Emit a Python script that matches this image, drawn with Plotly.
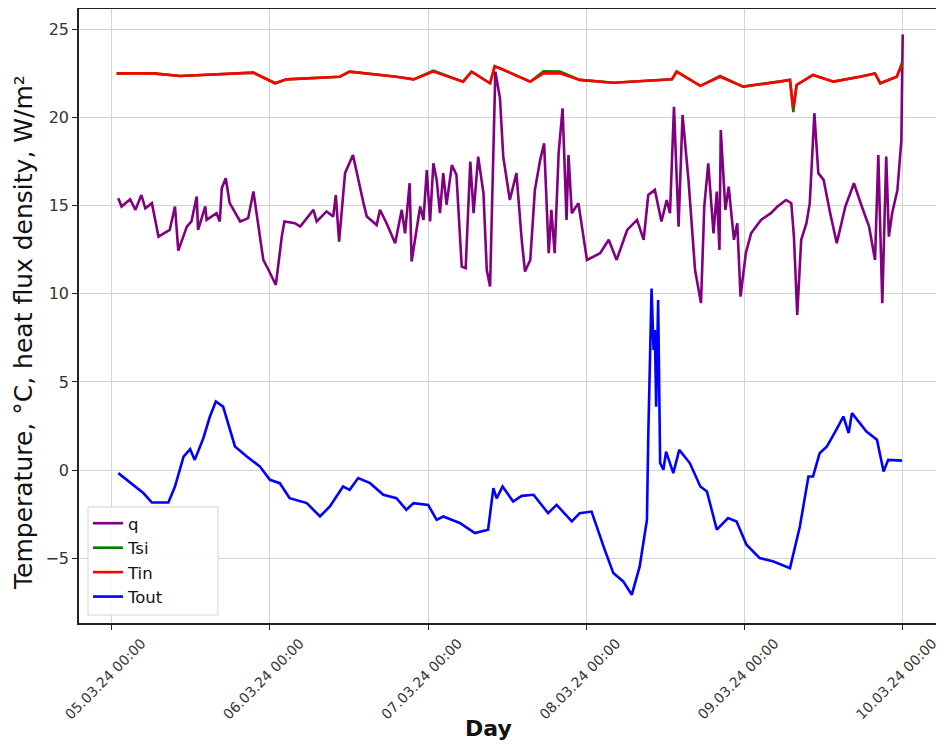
import pandas as pd
import plotly.graph_objects as go

BASE = pd.Timestamp("2024-03-05 00:00")

# ---- data (hours since 05.03.24 00:00, values) ----
q_hours = [1.0, 1.5, 2.8, 3.6, 4.5, 5.1, 6.1, 7.1, 8.8, 9.6, 10.1, 11.4, 12.1, 12.9, 13.1, 14.2, 14.4,
           15.9, 16.4, 16.7, 17.3, 17.9, 19.5, 20.7, 21.5, 22.5, 23.0, 23.8, 24.9, 25.8, 26.2, 27.8,
           28.6, 30.6, 31.1, 32.6, 33.6, 34.0, 34.5, 35.4, 36.6, 38.2, 38.7, 40.2, 40.7, 41.7, 43.0,
           44.0, 44.5, 45.2, 45.5, 46.8, 47.3, 47.8, 48.3, 48.8, 49.3, 49.8, 50.3, 50.8, 51.6, 52.3,
           53.1, 53.7, 54.4, 54.9, 55.6, 56.4, 56.9, 57.4, 58.2, 58.9, 59.4, 60.4, 61.4, 62.2, 62.7,
           63.5, 64.2, 65.0, 65.6, 66.0, 66.3, 66.7, 67.2, 67.8, 68.4, 69.0, 69.3, 69.8, 70.8, 72.1,
           73.1, 74.1, 75.4, 76.6, 78.2, 79.7, 80.7, 81.4, 82.4, 83.4, 84.2, 84.7, 85.3, 86.0, 86.6,
           87.5, 88.5, 89.4, 89.9, 90.5, 91.3, 91.8, 92.2, 92.4, 93.1, 93.6, 94.4, 94.9, 95.4, 96.2,
           97.0, 98.5, 100.0, 101.0, 102.3, 103.1, 103.5, 104.0, 104.6, 105.4, 105.9, 106.6, 107.2,
           108.0, 109.0, 110.0, 111.3, 112.6, 113.8, 114.9, 115.8, 116.3, 116.9, 117.5, 117.9, 118.4,
           119.2, 119.8, 120.0]
q_vals = [15.42, 14.95, 15.36, 14.76, 15.6, 14.85, 15.14, 13.24, 13.62, 14.95, 12.45, 13.81, 14.1, 15.51,
          13.62, 14.95, 14.19, 14.57, 14.1, 15.99, 16.55, 15.14, 14.1, 14.29, 15.8, 13.06, 11.92, 11.35,
          10.5, 13.24, 14.1, 14.0, 13.81, 14.76, 14.1, 14.67, 14.38, 15.6, 12.96, 16.84, 17.87, 15.14,
          14.38, 13.9, 14.76, 14.0, 12.87, 14.76, 13.43, 16.27, 11.83, 14.95, 14.19, 17.02, 14.1, 17.4,
          16.46, 14.57, 16.84, 15.05, 17.3, 16.74, 11.54, 11.45, 17.5, 14.57, 17.78, 15.7, 11.35, 10.41,
          22.6, 21.1, 17.78, 15.32, 16.84, 13.06, 11.26, 11.92, 15.89, 17.59, 18.53, 14.95, 12.3, 14.76,
          12.3, 17.97, 20.52, 14.19, 17.87, 14.57, 15.14, 11.92, 12.11, 12.3, 13.06, 11.92, 13.62, 14.19,
          13.06, 15.6, 15.89, 14.1, 15.32, 14.57, 20.61, 13.81, 20.14, 16.46, 11.35, 9.47, 14.95, 17.4,
          13.43, 15.8, 12.49, 19.29, 14.76, 16.08, 13.06, 14.0, 9.84, 12.3, 13.43, 14.19, 14.57, 14.95,
          15.32, 15.14, 13.24, 8.8, 13.06, 14.0, 15.14, 20.24, 16.84, 16.46, 14.57, 12.87, 14.95, 16.27,
          14.95, 13.81, 11.92, 17.87, 9.47, 17.78, 13.24, 14.57, 15.89, 18.72, 24.7]

tin_hours = [0.75, 6.3, 10.4, 21.5, 24.8, 26.5, 34.6, 36.1, 43.2, 45.8, 48.8, 53.3, 54.6, 57.4, 58.1,
             58.9, 63.5, 65.5, 68.0, 71.0, 76.1, 85.0, 85.7, 89.3, 92.3, 95.8, 101.4, 102.9, 103.4,
             103.9, 106.4, 109.5, 113.5, 115.8, 116.6, 119.1, 119.9]
tin_vals = [22.5, 22.5, 22.35, 22.54, 21.94, 22.16, 22.31, 22.6, 22.31, 22.16, 22.6, 22.03, 22.6, 21.94,
            22.88, 22.79, 22.03, 22.5, 22.5, 22.13, 21.97, 22.16, 22.6, 21.79, 22.31, 21.75, 22.03,
            22.13, 20.52, 21.84, 22.41, 22.03, 22.31, 22.5, 21.94, 22.31, 22.97]

tsi_hours = [0.75, 6.3, 10.4, 21.5, 24.8, 26.5, 34.6, 36.1, 43.2, 45.8, 48.8, 53.3, 54.6, 57.4, 58.1,
             58.9, 63.5, 65.5, 68.0, 71.0, 76.1, 85.0, 85.7, 89.3, 92.3, 95.8, 101.4, 102.9, 103.4,
             103.9, 106.4, 109.5, 113.5, 115.8, 116.6, 119.1, 119.9]
tsi_vals = [22.5, 22.5, 22.35, 22.54, 21.94, 22.16, 22.31, 22.6, 22.31, 22.16, 22.66, 22.03, 22.6, 21.94,
            22.92, 22.79, 22.03, 22.62, 22.6, 22.13, 21.97, 22.16, 22.6, 21.79, 22.36, 21.75, 22.03,
            22.13, 20.3, 21.84, 22.41, 22.03, 22.31, 22.5, 21.94, 22.31, 23.1]

tout_hours = [1.0, 3.3, 4.8, 6.1, 8.6, 9.6, 10.9, 11.9, 12.6, 13.9, 14.9, 15.8, 16.9, 18.7, 20.5, 22.5,
              24.0, 25.5, 27.0, 29.6, 31.6, 33.1, 35.1, 36.1, 37.4, 39.2, 41.2, 43.2, 44.7, 45.8, 48.0,
              49.3, 50.3, 52.8, 55.1, 57.1, 57.9, 58.4, 59.3, 60.9, 62.2, 64.0, 66.2, 67.5, 69.8, 71.0,
              72.8, 74.8, 76.1, 77.6, 78.9, 80.1, 81.2, 81.4, 81.9, 82.2, 82.4, 82.6, 82.9, 83.2, 83.7,
              84.1, 85.2, 86.1, 87.7, 89.3, 90.3, 91.8, 93.5, 94.8, 96.3, 98.3, 100.4, 102.9, 104.4,
              105.7, 106.4, 107.4, 108.5, 109.5, 111.0, 111.8, 112.3, 114.5, 116.1, 117.1, 117.8, 119.9]
tout_vals = [-0.17, -0.83, -1.3, -1.84, -1.84, -0.93, 0.77, 1.19, 0.58, 1.81, 3.04, 3.89, 3.6, 1.34, 0.77,
             0.2, -0.55, -0.74, -1.59, -1.87, -2.63, -2.06, -0.93, -1.12, -0.45, -0.74, -1.4, -1.59,
             -2.25, -1.87, -1.97, -2.82, -2.63, -3.0, -3.57, -3.38, -1.02, -1.6, -0.93, -1.78, -1.46,
             -1.4, -2.44, -1.97, -2.91, -2.44, -2.35, -4.52, -5.84, -6.31, -7.07, -5.46, -2.82, 1.9,
             10.3, 6.82, 7.95, 3.6, 9.65, 0.4, 0.02, 1.05, -0.17, 1.15, 0.4, -0.93, -1.21, -3.38, -2.72,
             -2.91, -4.23, -4.99, -5.18, -5.56, -3.2, -0.36, -0.36, 0.96, 1.34, 2.0, 3.04, 2.1, 3.23,
             2.19, 1.72, -0.08, 0.58, 0.54]

tick_days = [0, 1, 2, 3, 4, 5]
y_ticks = [-5, 0, 5, 10, 15, 20, 25]

FONT = "DejaVu Sans, Verdana, sans-serif"

# The page body has an 8 px margin; the figure is sized so the page does not scroll.
# Plot area on the page: x 79..937, y 9..623
OFF = 8
PX0, PX1, PY0, PY1 = 79.0, 937.0, 9.0, 623.0
FIG_W, FIG_H = 936, 733


def fx(px):
    return (px - PX0) / (PX1 - PX0)


def fy(py):
    return (PY1 - py) / (PY1 - PY0)


def to_time(hours):
    return [BASE + pd.Timedelta(hours=h) for h in hours]


fig = go.Figure()
series = [
    ("q", q_hours, q_vals, "#800080"),
    ("Tsi", tsi_hours, tsi_vals, "#008000"),
    ("Tin", tin_hours, tin_vals, "#ff0000"),
    ("Tout", tout_hours, tout_vals, "#0000ff"),
]
for name, hrs, vals, col in series:
    fig.add_trace(go.Scatter(x=to_time(hrs), y=vals, mode="lines", name=name,
                             line=dict(color=col, width=2.6)))

tickvals = [BASE + pd.Timedelta(days=d) for d in tick_days]
ticktext = [t.strftime("%d.%m.%y %H:%M") for t in tickvals]

# x range chosen so that day ticks fall at page x = 111.7 + 158.2 * day
day_px = 158.2
x_lo = (PX0 - 111.7) / day_px
x_hi = (PX1 - 111.7) / day_px

fig.update_layout(
    width=FIG_W, height=FIG_H,
    margin=dict(l=PX0 - OFF, r=FIG_W - (PX1 - OFF), t=PY0 - OFF, b=FIG_H - (PY1 - OFF)),
    paper_bgcolor="white", plot_bgcolor="white",
    font=dict(family=FONT, color="#222"),
    showlegend=True,
    legend=dict(x=fx(88), y=fy(506), xanchor="left", yanchor="top",
                bgcolor="rgba(0,0,0,0)", borderwidth=0,
                font=dict(size=16.5, color="#111"), tracegroupgap=0),
    shapes=[dict(type="rect", xref="paper", yref="paper", layer="above",
                 x0=fx(88), x1=fx(218), y0=fy(507), y1=fy(615),
                 line=dict(color="#d4d4d4", width=1), fillcolor="rgba(255,255,255,0.85)")],
    annotations=[
        dict(text="<b>Day</b>", xref="paper", yref="paper", x=fx(488), y=fy(728),
             xanchor="center", yanchor="middle", showarrow=False,
             font=dict(family=FONT, size=22, color="#111")),
        dict(text="Temperature, \u00b0C, heat flux density, W/m\u00b2", xref="paper", yref="paper",
             x=fx(23), y=fy(333), textangle=-90,
             xanchor="center", yanchor="middle", showarrow=False,
             font=dict(family=FONT, size=25, color="#111")),
    ],
)
fig.update_xaxes(
    range=[BASE + pd.Timedelta(days=x_lo), BASE + pd.Timedelta(days=x_hi)],
    tickvals=tickvals, ticktext=ticktext, tickangle=-45,
    tickfont=dict(family=FONT, size=14, color="#333"),
    ticklabelshift=30, ticklabelstandoff=0, ticklabeloverflow="allow",
    showgrid=True, gridcolor="#d3d3d3", gridwidth=1.2,
    showline=True, linecolor="#222", linewidth=1.5, mirror=True,
    ticks="outside", ticklen=5, tickcolor="#222", automargin=False,
    zeroline=False,
)
fig.update_yaxes(
    range=[-8.67, 26.15],
    tickvals=y_ticks, ticktext=[("\u2212" + str(-v)) if v < 0 else str(v) for v in y_ticks],
    tickfont=dict(family=FONT, size=16, color="#333"),
    showgrid=True, gridcolor="#d3d3d3", gridwidth=1.2,
    showline=True, linecolor="#222", linewidth=1.5, mirror=True,
    ticks="outside", ticklen=5, tickcolor="#222", automargin=False,
    zeroline=False,
)

fig.write_html("out.html")
